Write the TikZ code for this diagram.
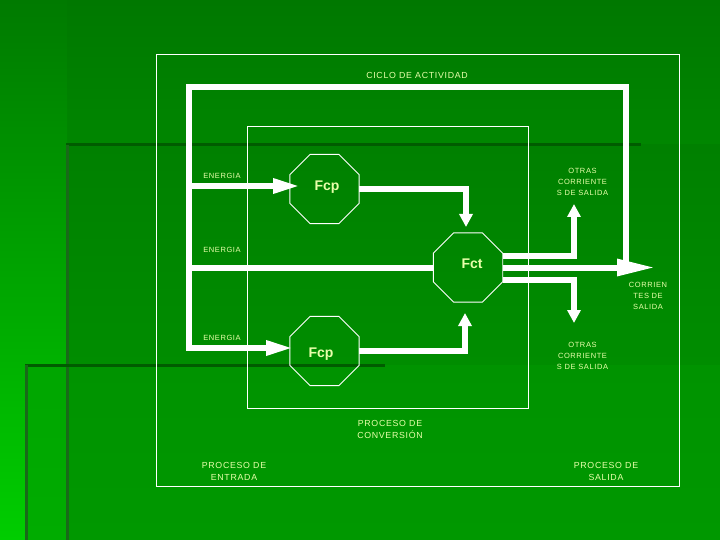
\documentclass[tikz,border=0pt]{standalone}
\usepackage{fontspec}
\setmainfont{Liberation Sans}
\newfontfamily\spaced[LetterSpace=8]{Liberation Sans}
\usetikzlibrary{arrows.meta,shapes.geometric}
\definecolor{topA}{RGB}{0,120,0}
\definecolor{topB}{RGB}{0,134,0}
\definecolor{stripA}{RGB}{0,122,0}
\definecolor{stripB}{RGB}{0,205,0}
\definecolor{panB1}{RGB}{0,128,0}
\definecolor{panB2}{RGB}{0,141,0}
\definecolor{panC1}{RGB}{0,147,0}
\definecolor{panC2}{RGB}{0,152,0}
\definecolor{panL1}{RGB}{0,166,0}
\definecolor{panL2}{RGB}{0,172,0}
\definecolor{dech}{RGB}{0,92,0}
\definecolor{decv}{RGB}{25,105,25}
\definecolor{labc}{RGB}{232,255,170}
\begin{document}
\begin{tikzpicture}[x=1pt,y=-1pt,
  wline/.style={draw=white,line width=6pt,line join=miter},
  frame/.style={draw=white,line width=0.9pt},
  octa/.style={regular polygon,regular polygon sides=8,minimum size=75pt,inner sep=0pt,outer sep=0pt,draw=white,line width=0.8pt},
  lbl/.style={text=labc,font=\spaced\fontsize{7.5}{11.3}\selectfont,align=center,inner sep=0pt},
  captext/.style={text=labc,font=\spaced\fontsize{8.8}{12}\selectfont,align=center,inner sep=0pt},
  big/.style={text=labc,font=\bfseries\fontsize{14}{16}\selectfont,inner sep=0pt},
  tipbig/.style={-{Triangle[length=38pt,width=16pt]}},
  tipmed/.style={-{Triangle[length=27pt,width=14pt]}},
  tipsm/.style={-{Triangle[length=13pt,width=13pt]}},
  declineh/.style={draw=dech,line width=3pt},
  declinev/.style={draw=decv,line width=3pt}]
\useasboundingbox (0,0) rectangle (720,540);
% background
\shade[top color=topA,bottom color=topB] (0,0) rectangle (720,145);
\shade[top color=stripA,bottom color=stripB] (0,0) rectangle (67,540);
\shade[top color=panB1,bottom color=panB2] (67,145) rectangle (720,365);
\shade[top color=panC1,bottom color=panC2] (67,365) rectangle (720,540);
\shade[top color=panL1,bottom color=panL2] (26,365) rectangle (67,540);
\draw[declineh] (66,145) -- (641,145);
\draw[declinev] (67,145) -- (67,540);
\draw[declineh] (25,365) -- (385,365);
\draw[declinev] (26,365) -- (26,540);
% frames
\draw[frame] (156,54) rectangle (679,486);
\draw[frame] (247,126) rectangle (528,408);
% octagons
\node[octa] (fcp1) at (324.5,189) {};
\node[octa] (fct) at (468,267.5) {};
\node[octa] (fcp2) at (324.5,351) {};
% coordinates
\coordinate (lb) at (189,348);
\coordinate (lt) at (189,87);
\coordinate (rt) at (626,87);
\coordinate (rend) at (626,262);
\coordinate (e1) at (189,186);
\coordinate (e2) at (189,267.5);
\coordinate (tip1) at (300,186);
\coordinate (tip3) at (293,348);
\coordinate (maintip) at (655,267.5);
\coordinate (d1) at (466,227);
\coordinate (u2) at (465,313);
\coordinate (up3) at (574,204);
\coordinate (dn3) at (574,323);
% connectors
\draw[wline,tipmed] (rend) -- (rt) -- (lt) -- (lb) -- (tip3);
\draw[wline,tipmed] (e1) -- (tip1);
\draw[wline] (e2) -- (fct.west);
\draw[wline,tipbig] (fct.east) -- (maintip);
\draw[wline,tipsm] ([yshift=12pt]fct.east) -| (up3);
\draw[wline,tipsm] ([yshift=-12.5pt]fct.east) -| (dn3);
\draw[wline,tipsm] (fcp1.east) -| (d1);
\draw[wline,tipsm] (fcp2.east) -| (u2);
% labels
\node[big] (fcp1t) at (327,187) {Fcp};
\node[big] (fctt) at (472,264) {Fct};
\node[big] (fcp2t) at (321,354) {Fcp};
\node[captext] (ciclo) at (417,75) {CICLO DE ACTIVIDAD};
\node[lbl] (en1) at (222,176) {ENERGIA};
\node[lbl] (en2) at (222,250) {ENERGIA};
\node[lbl] (en3) at (222,338) {ENERGIA};
\node[lbl] (otras1) at (582.5,182) {OTRAS\\CORRIENTE\\S DE SALIDA};
\node[lbl] (corr) at (648,296) {CORRIEN\\TES DE\\SALIDA};
\node[lbl] (otras2) at (582.5,356) {OTRAS\\CORRIENTE\\S DE SALIDA};
\node[captext] (pconv) at (390,429) {PROCESO DE\\CONVERSIÓN};
\node[captext] (pent) at (234,471.5) {PROCESO DE\\ENTRADA};
\node[captext] (psal) at (606,471.5) {PROCESO DE\\SALIDA};
\end{tikzpicture}
\end{document}
